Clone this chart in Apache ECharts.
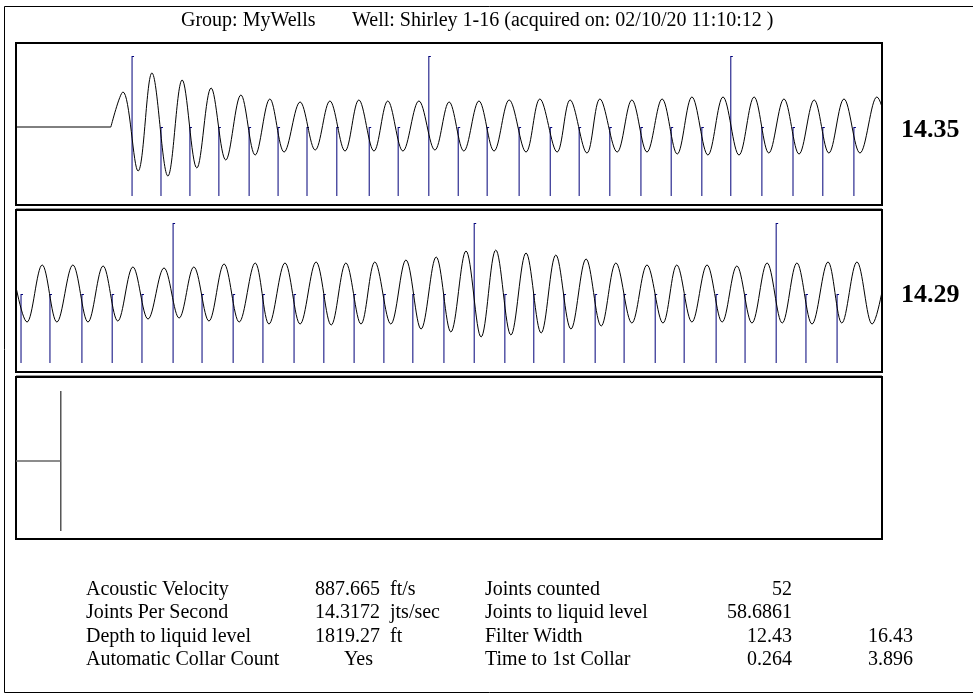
<!DOCTYPE html>
<html><head><meta charset="utf-8">
<script src="https://cdn.jsdelivr.net/npm/echarts@6/dist/echarts.min.js"></script>
<style>html,body{margin:0;padding:0;background:#fff}#c{width:973px;height:700px}</style>
</head><body><div id="c"></div>
<script>
// ---------------- data ----------------
const titleGroup = 'Group: MyWells';
const titleWell = 'Well: Shirley 1-16 (acquired on: 02/10/20 11:10:12 )';
const panelStarts = [0, 2, 4];          // seconds at start of each trace strip
const panelSpan = 2;                    // seconds per strip
const jpsLabels = ['14.35', '14.29'];   // joints/sec per strip

// strip 1: quiet baseline before the shot
const baseline1 = [[0, 0], [0.215, 0]];
// strip 1 filtered waveform (extrema), time in s, amplitude
const wave1Times = [0.215,0.243,0.278,0.310,0.347,0.380,0.414,0.447,0.481,0.516,0.549,0.583,0.616,0.653,0.688,0.722,0.757,0.789,0.824,0.856,0.891,0.928,0.965,0.998,1.032,1.067,1.102,1.137,1.176,1.208,1.248,1.278,1.317,1.347,1.387,1.421,1.456,1.491,1.526,1.560,1.597,1.632,1.669,1.704,1.738,1.773,1.808,1.843,1.877,1.912,1.949,1.988,2.023];
const wave1Amps  = [0,35,-44,54,-49,47,-41,39,-33,32,-28,28,-25,25,-23,26,-24,27,-24,26,-24,26,-23,25,-24,26,-24,27,-25,28,-25,27,-26,28,-25,27,-25,28,-27,30,-28,30,-28,30,-26,28,-27,27,-26,28,-26,30,-26];
// strip 2 filtered waveform
const wave2Times = [1.986,2.021,2.056,2.090,2.127,2.162,2.197,2.231,2.266,2.301,2.338,2.373,2.407,2.442,2.477,2.512,2.549,2.581,2.618,2.653,2.690,2.725,2.759,2.794,2.826,2.863,2.898,2.933,2.968,3.002,3.037,3.072,3.106,3.141,3.176,3.211,3.245,3.280,3.315,3.350,3.384,3.421,3.456,3.493,3.525,3.560,3.595,3.630,3.664,3.699,3.734,3.769,3.803,3.838,3.875,3.907,3.942,3.977,4.012];
const wave2Amps  = [28,-28,29,-28,29,-28,28,-27,27,-25,26,-24,27,-27,30,-28,31,-30,31,-30,32,-31,31,-30,32,-30,34,-35,37,-38,43,-43,44,-41,41,-39,39,-35,35,-32,31,-29,29,-29,29,-28,29,-28,28,-29,31,-29,31,-30,32,-29,32,-30,31];

// collar picks (s)
const collars1 = [0.264,0.331,0.398,0.465,0.535,0.602,0.669,0.738,0.813,0.880,0.951,1.019,1.086,1.160,1.232,1.299,1.370,1.442,1.512,1.583,1.650,1.722,1.794,1.863,1.935];
const collars2 = [2.007,2.074,2.148,2.218,2.287,2.359,2.426,2.498,2.567,2.639,2.708,2.778,2.847,2.914,2.986,3.056,3.127,3.194,3.264,3.336,3.403,3.475,3.542,3.616,3.683,3.755,3.824,3.896];
const bigCollars1 = [0.264, 0.951, 1.650];
const bigCollars2 = [2.359, 3.056, 3.755];
const collarBottom = -69, collarSmallTop = 0, collarBigTop = 71;

// liquid level pick (s)
const liquidLevelTime = 4.099;
const liquidLevelHalf = 70;

// results table
const tblLabelsA = ['Acoustic Velocity','Joints Per Second','Depth to liquid level','Automatic Collar Count'];
const tblValuesA = ['887.665','14.3172','1819.27','Yes'];
const tblUnitsA  = ['ft/s','jts/sec','ft',''];
const tblLabelsB = ['Joints counted','Joints to liquid level','Filter Width','Time to 1st Collar'];
const tblValuesB = ['52','58.6861','12.43','0.264'];
const tblValuesC = ['','','16.43','3.896'];

// ---------------- chart ----------------
const FONT = '"Liberation Serif","Times New Roman",serif';
const lead = 2 / 432;  // strip frame starts slightly before t0
const gridTops = [43, 210, 377];
const grids = gridTops.map(t => ({left: 16, top: t, width: 866, height: 162, show: true,
  borderColor: '#000', borderWidth: 2, backgroundColor: '#fff'}));
const xAxes = panelStarts.map((s, i) => ({type: 'value', gridIndex: i, min: s - lead, max: s + panelSpan, show: false}));
const yAxes = panelStarts.map((s, i) => ({type: 'value', gridIndex: i, min: -78, max: 84, show: false}));

function zip(ts, as) { return ts.map((t, i) => [t, as[i]]); }

function collarSeries(idx, times, bigs) {
  return {
    type: 'custom', xAxisIndex: idx, yAxisIndex: idx, clip: true, silent: true,
    data: times.map(t => [t, bigs.includes(t) ? collarBigTop : collarSmallTop]),
    renderItem: function (params, api) {
      const p0 = api.coord([api.value(0), collarBottom]);
      const p1 = api.coord([api.value(0), api.value(1)]);
      const st = {stroke: '#00007a', lineWidth: 1, fill: null};
      return {type: 'group', children: [
        {type: 'line', shape: {x1: p0[0], y1: p0[1], x2: p1[0], y2: p1[1]}, style: st},
        {type: 'line', shape: {x1: p1[0], y1: p1[1] + 0.5, x2: p1[0] + 2, y2: p1[1] + 0.5}, style: st}
      ]};
    }
  };
}

const waveStyle = {color: '#000', width: 1};
const SM = 0.36;
const series = [
  {type: 'line', xAxisIndex: 0, yAxisIndex: 0, data: [[-lead, baseline1[0][1]], baseline1[1]], showSymbol: false, lineStyle: waveStyle, silent: true},
  {type: 'line', xAxisIndex: 0, yAxisIndex: 0, data: zip(wave1Times, wave1Amps), smooth: SM, showSymbol: false, lineStyle: waveStyle, silent: true, clip: true},
  collarSeries(0, collars1, bigCollars1),
  {type: 'line', xAxisIndex: 1, yAxisIndex: 1, data: zip(wave2Times, wave2Amps), smooth: SM, showSymbol: false, lineStyle: waveStyle, silent: true, clip: true},
  collarSeries(1, collars2, bigCollars2),
  {type: 'line', xAxisIndex: 2, yAxisIndex: 2, data: [[liquidLevelTime, -liquidLevelHalf], [liquidLevelTime, liquidLevelHalf]], showSymbol: false, lineStyle: {color: '#555', width: 1.5}, silent: true},
  {type: 'line', xAxisIndex: 2, yAxisIndex: 2, data: [[panelStarts[2] - lead, 0], [liquidLevelTime, 0]], showSymbol: false, lineStyle: {color: '#666', width: 1.5}, silent: true}
];

const graphics = [
  {type: 'rect', shape: {x: 4.5, y: 6.5, width: 980, height: 686}, style: {fill: null, stroke: '#000', lineWidth: 1}, z: -10},
  {type: 'line', shape: {x1: 16, y1: 208.5, x2: 882, y2: 208.5}, style: {stroke: '#999', lineWidth: 1}},
  {type: 'line', shape: {x1: 16, y1: 375.5, x2: 882, y2: 375.5}, style: {stroke: '#999', lineWidth: 1}},
  {type: 'text', x: 181, y: 21, style: {text: titleGroup, font: '20px ' + FONT, fill: '#000', textVerticalAlign: 'middle'}},
  {type: 'text', x: 352, y: 21, style: {text: titleWell, font: '20px ' + FONT, fill: '#000', textVerticalAlign: 'middle'}},
  {type: 'text', x: 901, y: 130, style: {text: jpsLabels[0], font: 'bold 26px ' + FONT, fill: '#000', textVerticalAlign: 'middle'}},
  {type: 'text', x: 901, y: 295, style: {text: jpsLabels[1], font: 'bold 26px ' + FONT, fill: '#000', textVerticalAlign: 'middle'}}
];
const rowY = [590, 613, 637, 660];
rowY.forEach((y, i) => {
  const f = '20px ' + FONT;
  const base = {fill: '#000', font: f, textVerticalAlign: 'middle'};
  graphics.push({type: 'text', x: 86, y: y, style: Object.assign({text: tblLabelsA[i], textAlign: 'left'}, base)});
  graphics.push({type: 'text', x: tblValuesA[i] === 'Yes' ? 373 : 380, y: y, style: Object.assign({text: tblValuesA[i], textAlign: 'right'}, base)});
  graphics.push({type: 'text', x: 390, y: y, style: Object.assign({text: tblUnitsA[i], textAlign: 'left'}, base)});
  graphics.push({type: 'text', x: 485, y: y, style: Object.assign({text: tblLabelsB[i], textAlign: 'left'}, base)});
  graphics.push({type: 'text', x: 792, y: y, style: Object.assign({text: tblValuesB[i], textAlign: 'right'}, base)});
  graphics.push({type: 'text', x: 913, y: y, style: Object.assign({text: tblValuesC[i], textAlign: 'right'}, base)});
});

const chart = echarts.init(document.getElementById('c'), null, {renderer: 'canvas'});
chart.setOption({
  animation: false,
  backgroundColor: '#fff',
  grid: grids, xAxis: xAxes, yAxis: yAxes,
  series: series,
  graphic: graphics
});
</script></body></html>
